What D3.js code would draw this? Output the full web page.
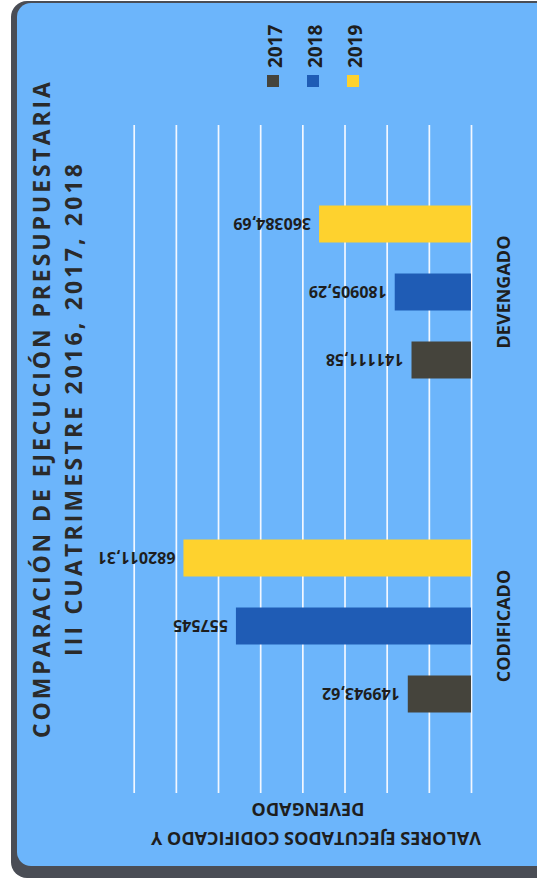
<!DOCTYPE html>
<html>
<head>
<meta charset="utf-8">
<script src="https://cdn.jsdelivr.net/npm/d3@7"></script>
<style>
  body { margin: 0; background: #fff; }
  svg { display: block; }
  text { font-family: "Open Sans", "DejaVu Sans", sans-serif; font-weight: bold; }
</style>
</head>
<body>
<svg id="chart" width="537" height="887"></svg>
<script>
// data (chart is drawn as a column chart, then turned -90deg)
var categories = ["CODIFICADO", "DEVENGADO"];
var years = ["2017", "2018", "2019"];
var values2017 = [149943.62, 141111.58];
var values2018 = [557545, 180905.29];
var values2019 = [682011.31, 360384.69];
var gridTicks = [0, 100000, 200000, 300000, 400000, 500000, 600000, 700000, 800000];
var titleLines = ["COMPARACIÓN DE EJECUCIÓN PRESUPUESTARIA", "III CUATRIMESTRE 2016, 2017, 2018"];
var axisTitleLines = ["VALORES EJECUTADOS CODIFICADO Y", "DEVENGADO"];

var colors = {"2017": "#45443c", "2018": "#1f5cb5", "2019": "#fed22e"};

var svg = d3.select("#chart");

// card background (screen coords)
svg.append("rect").attr("x", 11).attr("y", 1).attr("width", 560).attr("height", 877)
  .attr("rx", 16).attr("fill", "#4a4d55");
svg.append("rect").attr("x", 17).attr("y", 3).attr("width", 560).attr("height", 863)
  .attr("rx", 14).attr("fill", "#6cb5fb");

// everything else in the un-rotated frame: 887 wide, 537 tall
var g = svg.append("g").attr("transform", "translate(0,887) rotate(-90)");

var rows = categories.map(function(c, i) {
  return {cat: c, vals: [values2017[i], values2018[i], values2019[i]]};
});

var x0 = d3.scaleBand().domain(categories).range([94, 762]);
var x1 = d3.scaleBand().domain(years).range([0, x0.bandwidth()])
  .paddingInner(0.456).paddingOuter(1.184);
var y = d3.scaleLinear().domain([0, 800000]).range([471, 133.7]);

// gridlines
var grid = g.append("g").attr("transform", "translate(94,0)")
  .call(d3.axisLeft(y).tickValues(gridTicks).tickSize(-(762 - 94)).tickFormat(""));
grid.select(".domain").remove();
grid.selectAll(".tick line").attr("stroke", "#f2f7ff").attr("stroke-width", 1.7);

// bars
var groups = g.selectAll(".grp").data(rows).enter().append("g")
  .attr("transform", function(d) { return "translate(" + x0(d.cat) + ",0)"; });

var bars = groups.selectAll("rect").data(function(d) {
  return d.vals.map(function(v, i) { return {year: years[i], v: v}; });
}).enter();

bars.append("rect")
  .attr("x", function(d) { return x1(d.year); })
  .attr("width", x1.bandwidth())
  .attr("y", function(d) { return y(d.v); })
  .attr("height", function(d) { return y(0) - y(d.v); })
  .attr("fill", function(d) { return colors[d.year]; });

// value labels, vertical above each column
bars.append("text")
  .attr("transform", function(d) {
    return "translate(" + (x1(d.year) + x1.bandwidth() / 2) + "," + (y(d.v) - 8) + ") rotate(-90)";
  })
  .attr("dy", "0.36em")
  .attr("font-size", 16)
  .attr("fill", "#1e1e1e")
  .text(function(d) { return String(d.v).replace(".", ","); });

// category axis
var xAxis = g.append("g").attr("transform", "translate(0,471)")
  .call(d3.axisBottom(x0).tickSize(0).tickPadding(26));
xAxis.select(".domain").remove();
xAxis.selectAll("text").attr("font-size", 18).attr("fill", "#1e1e1e")
  .attr("font-family", "'Open Sans', sans-serif").attr("font-weight", "bold");

// value-axis title
g.selectAll(".ytitle").data(axisTitleLines).enter().append("text")
  .attr("transform", function(d, i) { return "translate(" + (i == 0 ? 55 : 84) + "," + (i == 0 ? 316 : 308) + ") rotate(-90)"; })
  .attr("text-anchor", "middle")
  .attr("font-size", 18)
  .attr("fill", "#1e1e1e")
  .text(function(d) { return d; });

// title
g.selectAll(".title").data(titleLines).enter().append("text")
  .attr("x", 477)
  .attr("y", function(d, i) { return i == 0 ? 50 : 82; })
  .attr("text-anchor", "middle")
  .attr("font-size", 23)
  .attr("textLength", function(d, i) { return i == 0 ? 656 : 492; })
  .attr("lengthAdjust", "spacing")
  .attr("fill", "#2a2a2a")
  .text(function(d) { return d; });

// legend
var legend = g.selectAll(".leg").data(years).enter().append("g")
  .attr("transform", function(d, i) { return "translate(800," + (267 + i * 40) + ")"; });
legend.append("rect").attr("width", 12).attr("height", 12)
  .attr("fill", function(d) { return colors[d]; });
legend.append("text").attr("x", 19).attr("y", 15)
  .attr("font-size", 19).attr("fill", "#1e1e1e")
  .text(function(d) { return d; });
</script>
</body>
</html>
